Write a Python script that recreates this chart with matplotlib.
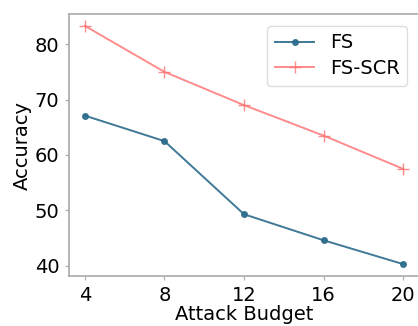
import matplotlib
matplotlib.use("Agg")
import matplotlib.pyplot as plt

budgets = [4, 8, 12, 16, 20]
fs_acc = [67.1, 62.5, 49.3, 44.6, 40.3]
fs_scr_acc = [83.3, 75.0, 69.0, 63.5, 57.5]
xticks = [4, 8, 12, 16, 20]
yticks = [40, 50, 60, 70, 80]

plt.rcParams['font.family'] = ['DejaVu Sans']
fig = plt.figure(figsize=(4.18, 3.26), dpi=100)
ax = fig.add_axes([69/418, 1 - 276/326, (419 - 69)/418, (276 - 14)/326])

ax.plot(budgets, fs_acc, color='#2a6b8c', marker='o', markersize=4, linewidth=1.4, alpha=0.9, label='FS')
ax.plot(budgets, fs_scr_acc, color='#ff6f6f', marker='+', markersize=9, linewidth=1.4, alpha=0.8, label='FS-SCR')

ax.set_xticks(xticks)
ax.set_yticks(yticks)
ax.tick_params(labelsize=14, length=3, color='#aaaaaa', pad=4)
ax.set_xlabel('Attack Budget', fontsize=14, labelpad=0)
ax.set_ylabel('Accuracy', fontsize=14, labelpad=2)
for s in ax.spines.values():
    s.set_color('#aaaaaa')
    s.set_linewidth(1.2)

ax.legend(fontsize=14, loc='upper right', handlelength=2.0, labelspacing=0.35,
          borderaxespad=0.6, edgecolor='#dddddd', framealpha=1, fancybox=True)

fig.savefig('out.png', dpi=100)
